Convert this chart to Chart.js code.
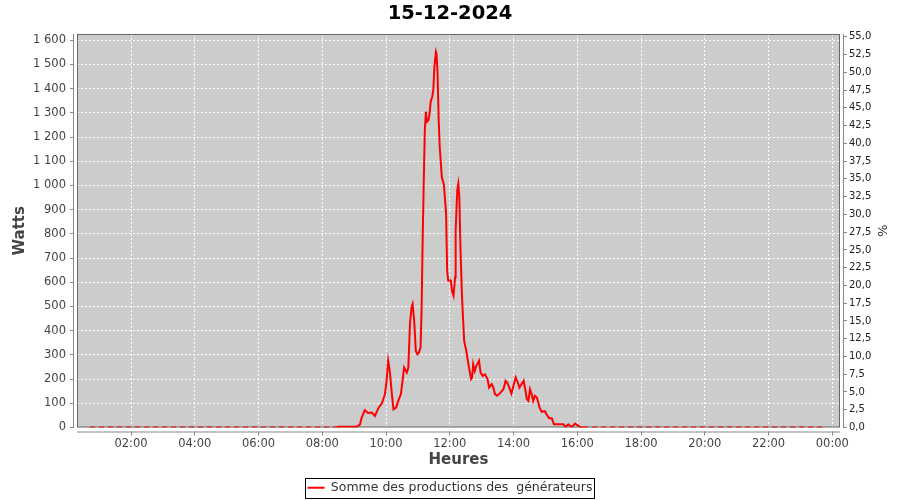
<!DOCTYPE html>
<html><head><meta charset="utf-8">
<script src="https://cdn.jsdelivr.net/npm/chart.js@4"></script>
<style>html,body{margin:0;padding:0;background:#fff}</style>
</head><body>
<canvas id="c" width="900" height="500"></canvas>
<script>
const chartTitle = '15-12-2024';
const seriesLabel = 'Somme des productions des  générateurs';
const xAxisTitle = 'Heures';
const yAxisTitle = 'Watts';
const y2AxisTitle = '%';

const times = ['00:43','01:00','02:00','03:00','04:00','05:00','06:00','07:00','08:00','08:27','08:30','09:05',
'09:11','09:14','09:20','09:26','09:33','09:39','09:46','09:52','09:58','10:01','10:04','10:07','10:11','10:14',
'10:19','10:23','10:28','10:31','10:34','10:39','10:42','10:45','10:48','10:50','10:53','10:56','10:59','11:02',
'11:05','11:07','11:09','11:11','11:13','11:15','11:17','11:20','11:22','11:24','11:27','11:29','11:31','11:34',
'11:35','11:37','11:39','11:41','11:45','11:49','11:53','11:55','11:57','12:02','12:04','12:07','12:10','12:11',
'12:14','12:16','12:18','12:20','12:23','12:27','12:31','12:35','12:40','12:42','12:44','12:47','12:50','12:55',
'12:58','13:02','13:06','13:11','13:14','13:19','13:22','13:25','13:29','13:34','13:41','13:45','13:48','13:52',
'13:56','13:59','14:04','14:08','14:11','14:15','14:19','14:22','14:25','14:28','14:31','14:34','14:37','14:40',
'14:44','14:49','14:53','14:59','15:02','15:07','15:12','15:16','15:28','15:34','15:38','15:43','15:49','15:56',
'16:00','16:05','16:11','17:00','18:00','19:00','20:00','21:00','22:00','23:00','23:48'];
const watts = [0,0,0,0,0,0,0,0,0,0,3,3,
13,40,72,60,62,48,82,99,138,193,276,234,138,75,
82,110,138,193,248,227,248,428,496,510,441,317,303,310,
331,496,787,1021,1228,1305,1263,1270,1298,1346,1367,1395,1491,1553,
1546,1464,1277,1160,1035,1001,884,649,607,607,566,545,621,814,
980,1008,952,745,538,358,317,262,200,207,262,234,255,276,
227,213,220,200,165,179,165,138,131,141,158,193,186,165,
140,165,207,186,165,179,193,158,117,110,158,138,110,131,
124,82,65,68,55,38,38,13,13,13,2,13,2,16,
10,2,0,0,0,0,0,0,0,0,0];

const xTickHours = [2,4,6,8,10,12,14,16,18,20,22,24];
const leftTicks = [0,100,200,300,400,500,600,700,800,900,1000,1100,1200,1300,1400,1500,1600];
const rightTicks = [0,2.5,5,7.5,10,12.5,15,17.5,20,22.5,25,27.5,30,32.5,35,37.5,40,42.5,45,47.5,50,52.5,55];

const FONT = 'DejaVu Sans';
const toHours = t => { const [h, m] = t.split(':').map(Number); return h + m / 60; };
const points = times.map((t, i) => ({ x: toHours(t), y: watts[i] }));
const fmtHour = v => String(Math.round(v) % 24).padStart(2, '0') + ':00';
const fmtW = v => v >= 1000 ? Math.floor(v / 1000) + ' ' + String(v % 1000).padStart(3, '0') : String(v);
const fmtPct = v => Number(v).toFixed(1).replace('.', ',');

const framePlugin = {
  id: 'frame',
  beforeDraw(chart) {
    const { ctx, chartArea: a } = chart;
    ctx.save();
    ctx.fillStyle = '#CCCCCC';
    ctx.fillRect(a.left, a.top, a.right - a.left, a.bottom - a.top);
    ctx.restore();
  },
  beforeDatasetsDraw(chart) {
    const { ctx, chartArea: a } = chart;
    ctx.save();
    ctx.fillStyle = '#ffffff';
    ctx.fillRect(a.left - 3, a.top, 3, a.bottom - a.top + 4);
    ctx.fillRect(a.left - 3, a.bottom, a.right - a.left + 6, 4);
    ctx.fillRect(a.right, a.top, 3, a.bottom - a.top + 4);
    ctx.lineWidth = 1;
    ctx.strokeStyle = '#666666';
    ctx.strokeRect(a.left + 0.5, a.top + 0.5, a.right - a.left - 1, a.bottom - a.top - 1);
    ctx.strokeStyle = '#888888';
    ctx.beginPath();
    ctx.moveTo(a.left - 3.5, a.top); ctx.lineTo(a.left - 3.5, a.bottom);
    ctx.moveTo(a.left, a.bottom + 4.5); ctx.lineTo(a.right, a.bottom + 4.5);
    ctx.moveTo(a.right + 3.5, a.top); ctx.lineTo(a.right + 3.5, a.bottom);
    ctx.stroke();
    const lg = chart.legend;
    if (lg && lg.legendHitBoxes && lg.legendHitBoxes.length) {
      const h = lg.legendHitBoxes[0];
      ctx.strokeStyle = '#000000';
      ctx.strokeRect(Math.round(h.left) - 2.5, Math.round(h.top) - 3.5, Math.round(h.width) + 4, Math.round(h.height) + 7);
    }
    ctx.restore();
  }
};

new Chart(document.getElementById('c'), {
  type: 'line',
  data: {
    datasets: [{
      label: seriesLabel,
      data: points,
      borderColor: '#ff0000',
      backgroundColor: '#ff0000',
      borderWidth: 2,
      pointRadius: 0,
      tension: 0,
      fill: false,
      clip: 0,
      yAxisID: 'y',
      segment: {
        borderDash: c => (c.p0.parsed.y === 0 && c.p1.parsed.y === 0) ? [5, 4] : undefined
      }
    }]
  },
  options: {
    responsive: false,
    animation: false,
    devicePixelRatio: 1,
    layout: { padding: { left: 0, right: 0, top: 0, bottom: -4 } },
    plugins: {
      title: {
        display: true, text: chartTitle, color: '#000000',
        font: { family: FONT, size: 19.5, weight: 'bold' },
        padding: { top: 2, bottom: 8.6 }
      },
      legend: {
        display: true, position: 'bottom',
        labels: {
          font: { family: FONT, size: 12.5 }, color: '#333333', padding: 10,
          boxWidth: 17, boxHeight: 2,
          generateLabels: chart => Chart.defaults.plugins.legend.labels.generateLabels(chart)
            .map(l => Object.assign(l, { lineWidth: 0, fillStyle: '#ff0000', strokeStyle: '#ff0000', lineDash: [] }))
        }
      },
      tooltip: { enabled: false }
    },
    scales: {
      x: {
        type: 'linear', position: 'bottom', min: 0.306, max: 24.24,
        afterBuildTicks: s => { s.ticks = xTickHours.map(v => ({ value: v })); },
        afterFit: s => { s.height = 44; },
        ticks: { callback: v => fmtHour(v), font: { family: FONT, size: 11.5 }, color: '#444444', padding: 2, maxRotation: 0, autoSkip: false },
        grid: { color: '#ffffff', lineWidth: 1, tickLength: 8, tickColor: '#888888', tickBorderDash: [], drawTicks: true },
        border: { display: false, dash: [2, 2] },
        title: { display: true, text: xAxisTitle, color: '#444444', font: { family: FONT, size: 15, weight: 'bold' }, padding: { top: 0, bottom: 2 } }
      },
      y: {
        type: 'linear', position: 'left', min: 0, max: 1626,
        afterBuildTicks: s => { s.ticks = leftTicks.map(v => ({ value: v })); },
        afterFit: s => { s.width = 77; },
        ticks: { callback: v => fmtW(v), font: { family: FONT, size: 11.5 }, color: '#444444', padding: 4 },
        grid: { color: '#ffffff', lineWidth: 1, tickLength: 7, tickColor: '#888888', tickBorderDash: [] },
        border: { display: false, dash: [2, 2] },
        title: { display: true, text: yAxisTitle, color: '#444444', font: { family: FONT, size: 15, weight: 'bold' }, padding: { top: 11, bottom: 0 } }
      },
      y1: {
        type: 'linear', position: 'right', min: 0, max: 55.4,
        afterBuildTicks: s => { s.ticks = rightTicks.map(v => ({ value: v })); },
        afterFit: s => { s.width = 60; },
        ticks: { callback: v => fmtPct(v), font: { family: FONT, size: 10 }, color: '#222222', padding: 2 },
        grid: { drawOnChartArea: false, tickLength: 7, tickColor: '#888888', tickBorderDash: [] },
        border: { display: false },
        title: { display: true, text: y2AxisTitle, color: '#333333', font: { family: FONT, size: 13 }, padding: { top: 11, bottom: 0 } }
      }
    }
  },
  plugins: [framePlugin]
});
</script>
</body></html>
